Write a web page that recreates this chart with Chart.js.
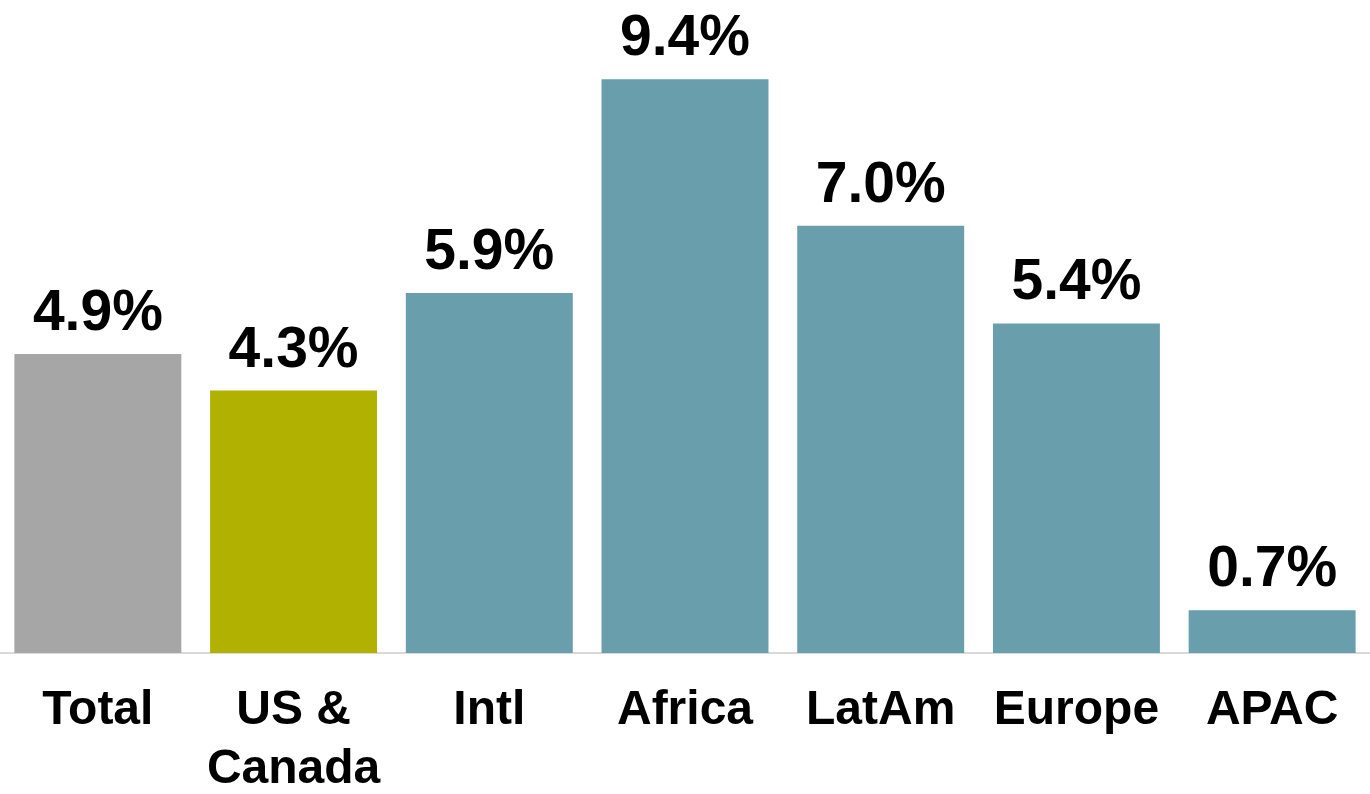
<!DOCTYPE html>
<html>
<head>
<meta charset="utf-8">
<script src="https://cdn.jsdelivr.net/npm/chart.js@4/dist/chart.umd.min.js"></script>
<style>
  html, body { margin: 0; padding: 0; background: #fff; }
  #wrap { width: 1370px; height: 794px; }
</style>
</head>
<body>
<div id="wrap"><canvas id="myChart"></canvas></div>
<script>
// categories and values
const categories = ["Total", ["US &", "Canada"], "Intl", "Africa", "LatAm", "Europe", "APAC"];
const growth = [4.9, 4.3, 5.9, 9.4, 7.0, 5.4, 0.7];
const barColors = ["#a6a6a6", "#b0b100", "#699ead", "#699ead", "#699ead", "#699ead", "#699ead"];

// draws the % labels above each bar
const valueLabels = {
  id: "valueLabels",
  afterDatasetsDraw(chart) {
    const ctx = chart.ctx;
    const meta = chart.getDatasetMeta(0);
    ctx.save();
    ctx.font = "bold 57px 'Liberation Sans', Arial, sans-serif";
    ctx.fillStyle = "#000";
    ctx.textAlign = "center";
    ctx.textBaseline = "alphabetic";
    meta.data.forEach(function (bar, i) {
      ctx.fillText(growth[i].toFixed(1) + "%", bar.x, bar.y - 24);
    });
    ctx.restore();
  },
};

window.onload = function () {
  const ctx = document.getElementById("myChart").getContext("2d");
  new Chart(ctx, {
    type: "bar",
    data: {
      labels: categories,
      datasets: [
        {
          data: growth,
          backgroundColor: barColors,
          borderWidth: 0,
          barPercentage: 0.853,
          categoryPercentage: 1,
        },
      ],
    },
    options: {
      responsive: true,
      maintainAspectRatio: false,
      animation: false,
      layout: { padding: 0 },
      plugins: {
        legend: { display: false },
        tooltip: { enabled: false },
      },
      scales: {
        x: {
          grid: { display: false, drawTicks: false },
          border: { display: true, color: "#d9d9d9", width: 2 },
          ticks: {
            color: "#000",
            padding: 28,
            maxRotation: 0,
            autoSkip: false,
            font: { family: "'Liberation Sans', Arial, sans-serif", size: 48, weight: "bold", lineHeight: 1.23 },
          },
          afterFit(scale) {
            scale.height = 141;
          },
        },
        y: {
          display: false,
          min: 0,
          max: 10.7,
        },
      },
    },
    plugins: [valueLabels],
  });
};
</script>
</body>
</html>
